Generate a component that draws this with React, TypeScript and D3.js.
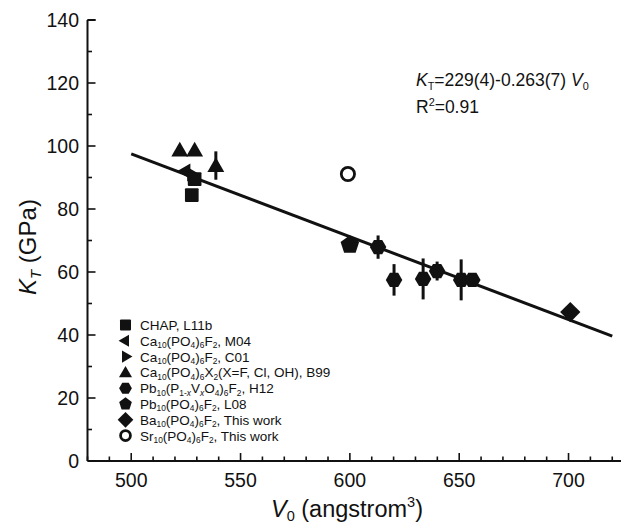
import React from "react";
import * as d3 from "d3";

// ---------- data ----------
const xTicks = [500, 550, 600, 650, 700];
const yTicks = [0, 20, 40, 60, 80, 100, 120, 140];

const chapV = [527.7, 529];
const chapK = [84.4, 89.5];

const m04V = [525];
const m04K = [92];

const c01V = [527.5];
const c01K = [91];

const b99V = [522.2, 529, 538.7];
const b99K = [98.7, 98.7, 93.8];
const b99Err = [0, 0, 4.5];

const h12V = [612.9, 620.2, 633.5, 639.9, 650.9, 656];
const h12K = [67.9, 57.5, 57.8, 60.3, 57.5, 57.5];
const h12Err = [3.7, 5, 6.5, 3, 6.5, 2];

const l08V = [600];
const l08K = [68.6];

const baV = [700.8];
const baK = [47.3];

const srV = [599.1];
const srK = [91.1];

const fitIntercept = 229;
const fitSlope = -0.263;
const fitRange = [500, 720];

type Seg = { t: string; sub?: boolean; sup?: boolean; it?: boolean };

const legendLabels: Seg[][] = [
  [{ t: "CHAP, L11b" }],
  [{ t: "Ca" }, { t: "10", sub: true }, { t: "(PO" }, { t: "4", sub: true }, { t: ")" }, { t: "6", sub: true }, { t: "F" }, { t: "2", sub: true }, { t: ", M04" }],
  [{ t: "Ca" }, { t: "10", sub: true }, { t: "(PO" }, { t: "4", sub: true }, { t: ")" }, { t: "6", sub: true }, { t: "F" }, { t: "2", sub: true }, { t: ", C01" }],
  [{ t: "Ca" }, { t: "10", sub: true }, { t: "(PO" }, { t: "4", sub: true }, { t: ")" }, { t: "6", sub: true }, { t: "X" }, { t: "2", sub: true }, { t: "(X=F, Cl, OH), B99" }],
  [{ t: "Pb" }, { t: "10", sub: true }, { t: "(P" }, { t: "1-", sub: true }, { t: "x", sub: true, it: true }, { t: "V" }, { t: "x", sub: true, it: true }, { t: "O" }, { t: "4", sub: true }, { t: ")" }, { t: "6", sub: true }, { t: "F" }, { t: "2", sub: true }, { t: ", H12" }],
  [{ t: "Pb" }, { t: "10", sub: true }, { t: "(PO" }, { t: "4", sub: true }, { t: ")" }, { t: "6", sub: true }, { t: "F" }, { t: "2", sub: true }, { t: ", L08" }],
  [{ t: "Ba" }, { t: "10", sub: true }, { t: "(PO" }, { t: "4", sub: true }, { t: ")" }, { t: "6", sub: true }, { t: "F" }, { t: "2", sub: true }, { t: ", This work" }],
  [{ t: "Sr" }, { t: "10", sub: true }, { t: "(PO" }, { t: "4", sub: true }, { t: ")" }, { t: "6", sub: true }, { t: "F" }, { t: "2", sub: true }, { t: ", This work" }],
];
const legendShapes = ["square", "left", "right", "up", "hex", "pent", "diamond", "circle"];

// ---------- layout ----------
const W = 622;
const H = 526;
const FONT = "'Liberation Sans', Arial, Helvetica, sans-serif";
const INK = "#111";

const x = d3.scaleLinear().domain([480, 724]).range([87.5, 621]);
const y = d3.scaleLinear().domain([0, 140]).range([461, 20]);

function Rich({ x: px, y: py, segs, size, anchor = "start", transform, subShift = 0.25 }: { x: number; y: number; segs: Seg[]; size: number; anchor?: string; transform?: string; subShift?: number }) {
  let prev = 0;
  return (
    <text x={px} y={py} fontSize={size} fontFamily={FONT} fill={INK} textAnchor={anchor} transform={transform}>
      {segs.map((s, i) => {
        const shift = s.sub ? size * subShift : s.sup ? -size * 0.42 : 0;
        const dy = shift - prev;
        prev = shift;
        return (
          <tspan key={i} dy={dy} fontSize={s.sub || s.sup ? size * 0.62 : size} fontStyle={s.it ? "italic" : "normal"}>
            {s.t}
          </tspan>
        );
      })}
    </text>
  );
}

function Marker({ shape, cx, cy, r }: { shape: string; cx: number; cy: number; r: number }) {
  const poly = (n: number, rot: number, rr: number) =>
    d3.range(n).map((i) => {
      const a = rot + (i * 2 * Math.PI) / n;
      return [cx + rr * Math.cos(a), cy + rr * Math.sin(a)].join(",");
    }).join(" ");
  switch (shape) {
    case "square":
      return <rect x={cx - r * 0.95} y={cy - r * 0.95} width={r * 1.9} height={r * 1.9} rx={1} fill={INK} />;
    case "left":
      return <polygon points={poly(3, Math.PI, r * 1.2)} fill={INK} />;
    case "right":
      return <polygon points={poly(3, 0, r * 1.2)} fill={INK} />;
    case "up":
      return <polygon points={poly(3, -Math.PI / 2, r * 1.3)} transform={`translate(0,${r * 0.2})`} fill={INK} />;
    case "hex":
      return <polygon points={poly(6, 0, r * 1.1)} fill={INK} />;
    case "pent":
      return <polygon points={poly(5, -Math.PI / 2, r * 1.15)} fill={INK} />;
    case "diamond":
      return <polygon points={poly(4, 0, r * 1.35)} fill={INK} />;
    case "circle":
      return <circle cx={cx} cy={cy} r={r * 0.85} fill="white" stroke={INK} strokeWidth={2.8} />;
  }
  return null;
}

function Series({ vs, ks, errs, shape, r }: { vs: number[]; ks: number[]; errs?: number[]; shape: string; r: number }) {
  return (
    <g>
      {vs.map((v, i) => (
        <g key={i}>
          {errs && errs[i] > 0 && (
            <line x1={x(v)} x2={x(v)} y1={y(ks[i] - errs[i])} y2={y(ks[i] + errs[i])} stroke={INK} strokeWidth={3} />
          )}
          <Marker shape={shape} cx={x(v)} cy={y(ks[i])} r={r} />
        </g>
      ))}
    </g>
  );
}

export default function App() {
  const xMinor = d3.range(480, 725, 10);
  const yMinor = d3.range(0, 141, 10);
  const x0 = x.range()[0];
  const y0 = y.range()[0];
  const legendX = 125.5;
  const legendY0 = 325;
  const legendDy = 15.8;

  return (
    <svg width={W} height={H} style={{ position: "absolute", left: 0, top: 0, background: "white" }}>
      {/* axes */}
      <line x1={x0} x2={x0} y1={y(140)} y2={y0} stroke={INK} strokeWidth={2} />
      <line x1={x0} x2={x.range()[1]} y1={y0} y2={y0} stroke={INK} strokeWidth={2} />
      <line x1={x0} x2={x0 + 8} y1={y(140)} y2={y(140)} stroke={INK} strokeWidth={2} />
      {xMinor.map((v) => (
        <line key={"xm" + v} x1={x(v)} x2={x(v)} y1={y0} y2={y0 - (v % 50 === 0 ? 8 : 4.5)} stroke={INK} strokeWidth={1.6} />
      ))}
      {yMinor.map((v) => (
        <line key={"ym" + v} x1={x0} x2={x0 + (v % 20 === 0 ? 8 : 4.5)} y1={y(v)} y2={y(v)} stroke={INK} strokeWidth={1.6} />
      ))}
      {xTicks.map((v) => (
        <text key={"xt" + v} x={x(v)} y={487} textAnchor="middle" fontSize={19.5} fontFamily={FONT} fill={INK}>
          {v}
        </text>
      ))}
      {yTicks.map((v) => (
        <text key={"yt" + v} x={79} y={y(v) + 7} textAnchor="end" fontSize={19.5} fontFamily={FONT} fill={INK}>
          {v}
        </text>
      ))}

      {/* axis titles */}
      <Rich x={347} y={517} size={23.5} anchor="middle" subShift={0.16} segs={[{ t: "V", it: true }, { t: "0", sub: true }, { t: " (angstrom" }, { t: "3", sup: true }, { t: ")" }]} />
      <Rich x={36} y={247} size={24} anchor="middle" subShift={0.2} transform="rotate(-90,36,247)" segs={[{ t: "K", it: true }, { t: "T", sub: true, it: true }, { t: " (GPa)" }]} />

      {/* fit line */}
      <line
        x1={x(fitRange[0])}
        y1={y(fitIntercept + fitSlope * fitRange[0])}
        x2={x(fitRange[1])}
        y2={y(fitIntercept + fitSlope * fitRange[1])}
        stroke={INK}
        strokeWidth={3}
      />

      {/* data */}
      <Series vs={c01V} ks={c01K} shape="right" r={7} />
      <Series vs={m04V} ks={m04K} shape="left" r={7.5} />
      <Series vs={chapV} ks={chapK} shape="square" r={7.2} />
      <Series vs={b99V} ks={b99K} errs={b99Err} shape="up" r={7.5} />
      <Series vs={l08V} ks={l08K} shape="pent" r={8.5} />
      <Series vs={h12V} ks={h12K} errs={h12Err} shape="hex" r={7.5} />
      <Series vs={baV} ks={baK} shape="diamond" r={7.5} />
      <Series vs={srV} ks={srK} shape="circle" r={7.8} />

      {/* annotation */}
      <Rich x={416} y={86} size={17.5} segs={[{ t: "K", it: true }, { t: "T", sub: true }, { t: "=229(4)-0.263(7)" }, { t: " V", it: true }, { t: "0", sub: true }]} />
      <Rich x={416} y={113} size={17.5} segs={[{ t: "R" }, { t: "2", sup: true }, { t: "=0.91" }]} />

      {/* legend */}
      {legendLabels.map((segs, i) => {
        const cy = legendY0 + i * legendDy;
        return (
          <g key={"lg" + i}>
            <Marker shape={legendShapes[i]} cx={legendX} cy={cy} r={5.8} />
            <Rich x={140} y={cy + 5} size={13.5} subShift={0.18} segs={segs} />
          </g>
        );
      })}
    </svg>
  );
}
